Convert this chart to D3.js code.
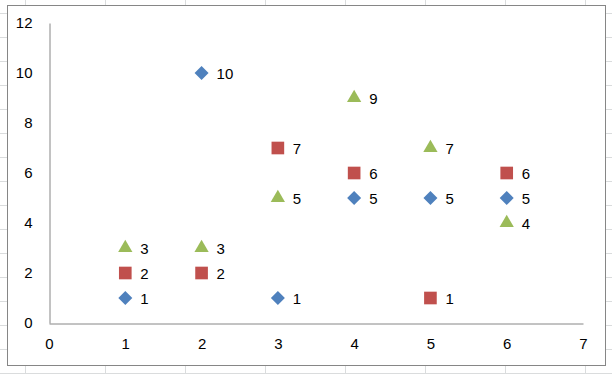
<!DOCTYPE html>
<html>
<head>
<meta charset="utf-8">
<script src="https://cdn.jsdelivr.net/npm/d3@7"></script>
<style>
  body { margin: 0; background: #fff; }
  text { font-family: "Liberation Sans", Arial, sans-serif; }
</style>
</head>
<body>
<div id="chart-area"></div>
<script>
// data
const xValues = [1, 2, 3, 4, 5, 6];
const blueValues = [1, 10, 1, 5, 5, 5];
const redValues = [2, 2, 7, 6, 1, 6];
const greenValues = [3, 3, 5, 9, 7, 4];
const xTicks = [0, 1, 2, 3, 4, 5, 6, 7];
const yTicks = [0, 2, 4, 6, 8, 10, 12];

const W = 612, H = 374;
const PLOT = { LEFT: 49, RIGHT: 583, TOP: 23, BOTTOM: 323 };

const svg = d3.select("#chart-area").append("svg")
  .attr("width", W)
  .attr("height", H)

// spreadsheet cells behind the chart
const grid = svg.append("g").attr("stroke", "#dadcdd").attr("stroke-width", 1)
d3.range(25, W, 80).forEach(gx => {
  grid.append("line").attr("x1", gx + 0.5).attr("x2", gx + 0.5).attr("y1", 0).attr("y2", H)
})
d3.range(13, H, 24).forEach(gy => {
  grid.append("line").attr("x1", 0).attr("x2", W).attr("y1", gy + 0.5).attr("y2", gy + 0.5)
})

// chart frame
svg.append("rect")
  .attr("x", 7.5).attr("y", 5.5)
  .attr("width", 598).attr("height", 360)
  .attr("fill", "#fff")
  .attr("stroke", "#868686")

const x = d3.scaleLinear().domain([0, 7]).range([PLOT.LEFT, PLOT.RIGHT])
const y = d3.scaleLinear().domain([0, 12]).range([PLOT.BOTTOM, PLOT.TOP])

// axes
const xAxis = svg.append("g")
  .attr("transform", `translate(0, ${PLOT.BOTTOM + 0.5})`)
  .call(d3.axisBottom(x).tickValues(xTicks).tickFormat(d3.format("d")).tickSize(0).tickPadding(15))
xAxis.select(".domain").attr("stroke", "#868686")
xAxis.selectAll("text").attr("font-size", "15px").attr("fill", "#000")

const yAxis = svg.append("g")
  .attr("transform", `translate(${PLOT.LEFT + 0.5}, 0)`)
  .call(d3.axisLeft(y).tickValues(yTicks).tickFormat(d3.format("d")).tickSize(0).tickPadding(17))
yAxis.select(".domain").attr("stroke", "#868686")
yAxis.selectAll("text").attr("font-size", "15px").attr("fill", "#000")

// series
const series = [
  { values: blueValues, color: "#4f81bd", shape: d3.symbolSquare, size: 98, rotate: 45 },
  { values: redValues, color: "#c0504d", shape: d3.symbolSquare, size: 160, rotate: 0 },
  { values: greenValues, color: "#9bbb59", shape: d3.symbolTriangle, size: 88, rotate: 0 }
]

series.forEach(s => {
  const pts = xValues.map((xv, i) => ({ x: xv, y: s.values[i] }))
  const g = svg.append("g")
  g.selectAll("path").data(pts).enter().append("path")
    .attr("d", d3.symbol().type(s.shape).size(s.size))
    .attr("transform", d => `translate(${x(d.x)}, ${y(d.y)}) rotate(${s.rotate})`)
    .attr("fill", s.color)
  g.selectAll("text").data(pts).enter().append("text")
    .attr("x", d => x(d.x) + 15)
    .attr("y", d => y(d.y) + 5.5)
    .attr("font-size", "15px")
    .text(d => d.y)
})
</script>
</body>
</html>
